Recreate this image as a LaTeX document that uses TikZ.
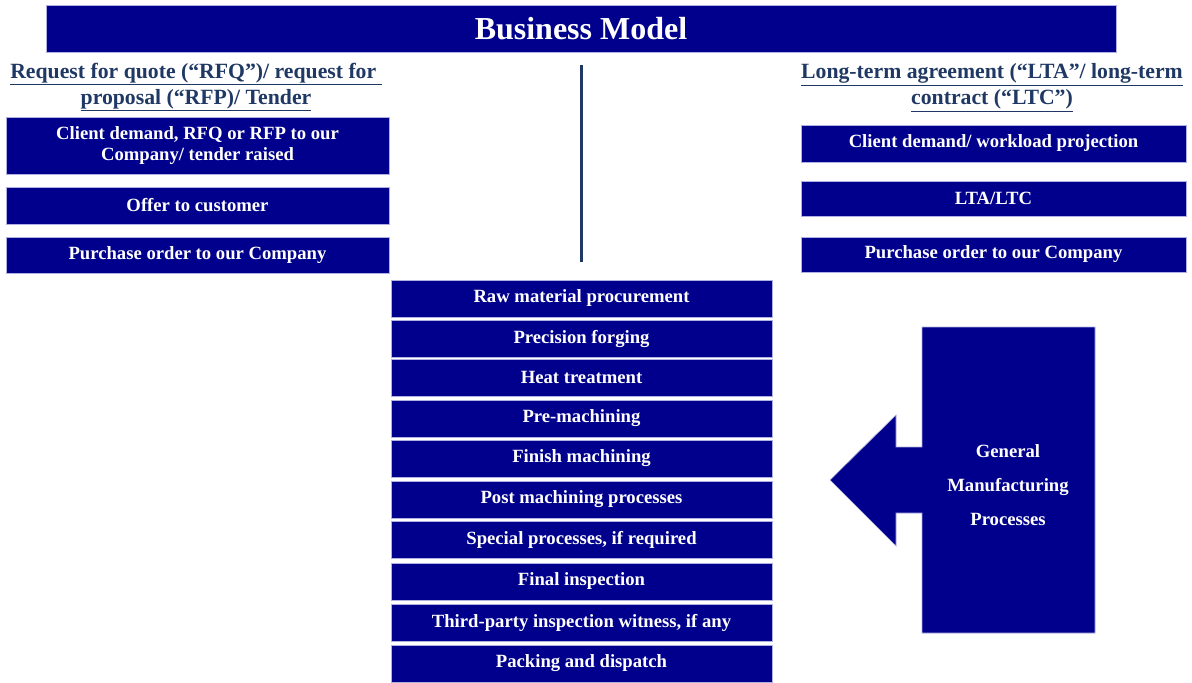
\documentclass[tikz,border=0pt]{standalone}
\usepackage{fontspec}
\setmainfont{Liberation Serif}
\definecolor{navyb}{RGB}{0,0,140}
\definecolor{edgec}{RGB}{175,175,225}
\definecolor{headc}{RGB}{31,56,100}
\begin{document}
\begin{tikzpicture}[x=0.75pt,y=-0.75pt,
  blk/.style={fill=navyb, draw=edgec, line width=0.5pt, text=white,
    font=\bfseries\fontsize{14}{16}\selectfont, align=center, inner sep=0pt},
  lbox/.style={blk, minimum width=287.25pt},
  rbox/.style={blk, minimum width=288.75pt},
  cbox/.style={blk, minimum width=285.75pt, minimum height=27.75pt},
  heading/.style={text=headc, font=\bfseries\fontsize{16.3}{19.5}\selectfont, align=center, inner sep=0pt}]
\useasboundingbox (0,0) rectangle (1192,682);
% title
\node[blk, minimum width=802.5pt, minimum height=35.25pt, font=\bfseries\fontsize{24}{28}\selectfont] (title) at (581,28.5) {Business Model};
% headings
\node[heading] (lhead) at (196,87) {\underline{Request for quote (“RFQ”)/ request for }\\\underline{proposal (“RFP)/ Tender}};
\node[heading] (rhead) at (992,88) {\underline{Long-term agreement (“LTA”/ long-term}\\\underline{contract (“LTC”)}};
% left column
\node[lbox, minimum height=42.75pt] (l1) at (197.5,145.5) {Client demand, RFQ or RFP to our\\Company/ tender raised};
\node[lbox, minimum height=27.75pt] (l2) at (197.5,205.5) {Offer to customer};
\node[lbox, minimum height=27pt] (l3) at (197.5,255) {Purchase order to our Company};
% right column
\node[rbox, minimum height=27.75pt] (r1) at (993.5,143.5) {Client demand/ workload projection};
\node[rbox, minimum height=26.25pt] (r2) at (993.5,198.5) {LTA/LTC};
\node[rbox, minimum height=26.25pt] (r3) at (993.5,254.5) {Purchase order to our Company};
% divider
\coordinate (vtop) at (581,65);
\coordinate (vbot) at (581,262);
\draw[headc, line width=2.25pt] (vtop) -- (vbot);
% centre column
\node[cbox] (c1) at (581.5,298.5) {Raw material procurement};
\node[cbox] (c2) at (581.5,338.5) {Precision forging};
\node[cbox] (c3) at (581.5,377.5) {Heat treatment};
\node[cbox] (c4) at (581.5,418.5) {Pre-machining};
\node[cbox] (c5) at (581.5,458.5) {Finish machining};
\node[cbox] (c6) at (581.5,499.5) {Post machining processes};
\node[cbox] (c7) at (581.5,539.5) {Special processes, if required};
\node[cbox] (c8) at (581.5,581.5) {Final inspection};
\node[cbox] (c9) at (581.5,622.5) {Third-party inspection witness, if any};
\node[cbox] (c10) at (581.5,663.5) {Packing and dispatch};
% general manufacturing arrow block
\fill[navyb, draw=edgec, line width=0.5pt] (922,327) -- (1095,327) -- (1095,633) -- (922,633) -- (922,513) -- (896,513) -- (896,546) -- (830,480) -- (896,415) -- (896,447) -- (922,447) -- cycle;
\node[text=white, font=\bfseries\fontsize{14}{25.5}\selectfont, align=center, inner sep=0pt] (gmp) at (1008,485) {General\\Manufacturing\\Processes};
\end{tikzpicture}
\end{document}
